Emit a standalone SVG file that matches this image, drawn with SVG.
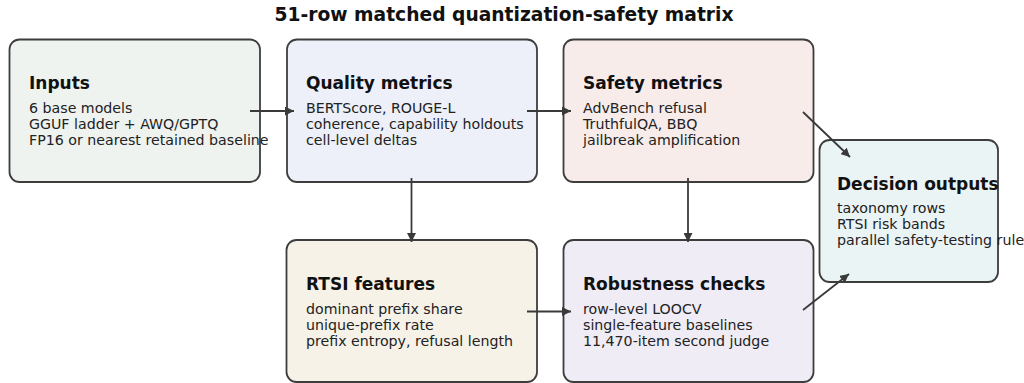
<svg xmlns="http://www.w3.org/2000/svg" width="1024" height="383" viewBox="0 0 1024 383">
  <style>
    .box { stroke: #3d3d3d; stroke-width: 1.8; }
    .title { font-family: "DejaVu Sans", sans-serif; font-weight: bold; font-size: 18.7px; fill: #111; }
    .head { font-family: "DejaVu Sans", sans-serif; font-weight: bold; font-size: 17px; fill: #111; }
    .body { font-family: "DejaVu Sans", sans-serif; font-size: 14.2px; fill: #222; }
    .edge { stroke: #3a3a3a; stroke-width: 1.8; fill: none; marker-end: url(#arrow); }
  </style>
  <defs>
    <marker id="arrow" viewBox="0 0 9 9" refX="9" refY="4.5" markerWidth="9" markerHeight="9" markerUnits="userSpaceOnUse" orient="auto">
      <path d="M0,0 L9,4.5 L0,9 Z" fill="#3a3a3a"/>
    </marker>
  </defs>
  <rect width="1024" height="383" fill="#ffffff"/>
  <text class="title" x="504" y="21" text-anchor="middle">51-row matched quantization-safety matrix</text>

  <g id="inputs">
    <rect class="box" x="9.5" y="39.5" width="250.5" height="142.5" rx="10" fill="#eef3f0"/>
    <text class="head" x="29" y="89">Inputs</text>
    <text class="body" x="29" y="113">6 base models</text>
    <text class="body" x="29" y="129">GGUF ladder + AWQ/GPTQ</text>
    <text class="body" x="29" y="145">FP16 or nearest retained baseline</text>
  </g>

  <g id="quality">
    <rect class="box" x="287" y="39.5" width="250" height="142.5" rx="10" fill="#edf0f8"/>
    <text class="head" x="306" y="89">Quality metrics</text>
    <text class="body" x="306" y="113">BERTScore, ROUGE-L</text>
    <text class="body" x="306" y="129">coherence, capability holdouts</text>
    <text class="body" x="306" y="145">cell-level deltas</text>
  </g>

  <g id="safety">
    <rect class="box" x="563.5" y="39.5" width="250" height="142.5" rx="10" fill="#f8eceb"/>
    <text class="head" x="583" y="89">Safety metrics</text>
    <text class="body" x="583" y="113">AdvBench refusal</text>
    <text class="body" x="583" y="129">TruthfulQA, BBQ</text>
    <text class="body" x="583" y="145">jailbreak amplification</text>
  </g>

  <g id="rtsi">
    <rect class="box" x="286.5" y="240" width="250.5" height="142" rx="10" fill="#f6f2e8"/>
    <text class="head" x="306" y="290">RTSI features</text>
    <text class="body" x="306" y="314">dominant prefix share</text>
    <text class="body" x="306" y="330">unique-prefix rate</text>
    <text class="body" x="306" y="346">prefix entropy, refusal length</text>
  </g>

  <g id="robustness">
    <rect class="box" x="563.5" y="240" width="250" height="142" rx="10" fill="#efecf6"/>
    <text class="head" x="583" y="290">Robustness checks</text>
    <text class="body" x="583" y="314">row-level LOOCV</text>
    <text class="body" x="583" y="330">single-feature baselines</text>
    <text class="body" x="583" y="346">11,470-item second judge</text>
  </g>

  <g id="decision">
    <rect class="box" x="819.5" y="140" width="178.5" height="142" rx="10" fill="#ebf4f5"/>
    <text class="head" x="837" y="190">Decision outputs</text>
    <text class="body" x="837" y="213">taxonomy rows</text>
    <text class="body" x="837" y="229">RTSI risk bands</text>
    <text class="body" x="837" y="245">parallel safety-testing rule</text>
  </g>

  <g id="connectors">
    <line class="edge" x1="250" y1="111" x2="294" y2="111"/>
    <line class="edge" x1="527" y1="111" x2="571" y2="111"/>
    <line class="edge" x1="411.5" y1="178" x2="411.5" y2="242"/>
    <line class="edge" x1="688" y1="178" x2="688" y2="242"/>
    <line class="edge" x1="527" y1="311.5" x2="571" y2="311.5"/>
    <line class="edge" x1="803" y1="112" x2="850" y2="157"/>
    <line class="edge" x1="803" y1="310" x2="849" y2="274"/>
  </g>
</svg>
